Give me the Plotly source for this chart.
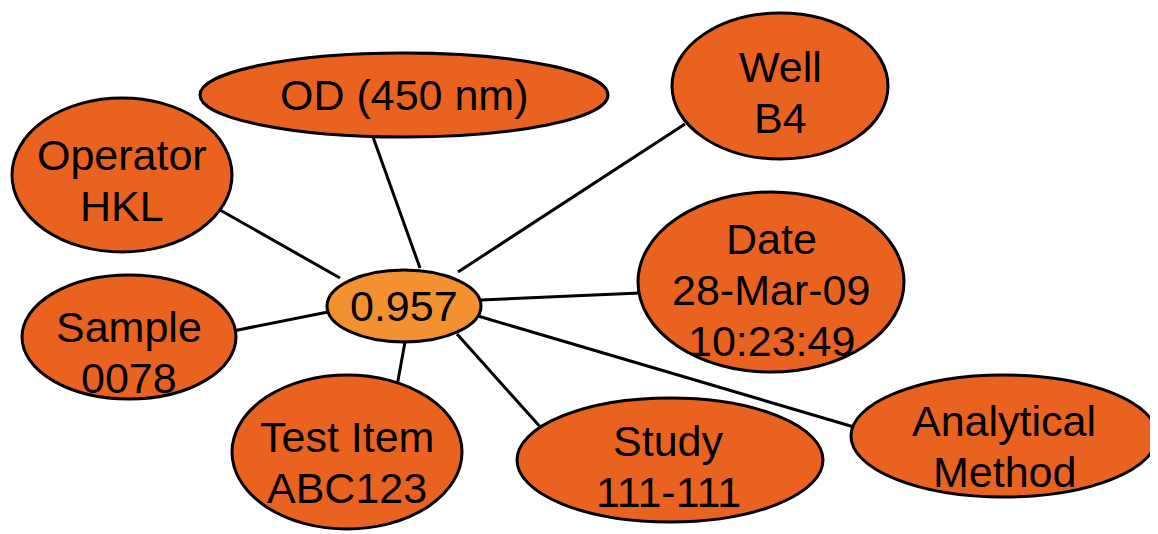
import plotly.graph_objects as go

# Node data (pixel space of a 1158x534 canvas)
labels = ["0.957", "OD (450 nm)", "Well<br>B4", "Operator<br>HKL", "Date<br>28-Mar-09<br>10:23:49",
          "Sample<br>0078", "Test Item<br>ABC123", "Study<br>111-111", "Analytical<br>Method"]
node_x = [404, 404, 780, 122, 771, 129, 347, 670, 1004]
node_y = [306, 95, 86, 175, 282, 337, 452, 460, 436]
node_rx = [77, 204, 108, 110, 133, 107, 115, 153, 153]
node_ry = [36, 42, 73, 77, 90, 62, 77, 62, 61]
text_x = [404, 404, 780, 122, 771, 129, 347, 668, 1004]
text_y = [306, 95, 92, 180, 290, 352, 462, 466, 446]
fills = ["#F39130"] + ["#EA621F"] * 8

# Edge endpoints: (outer node end) -> (central node end)
edge_x0 = [373, 685, 220, 640, 228, 397, 543, 854]
edge_y0 = [137, 124, 210, 293, 332, 386, 430, 427]
edge_x1 = [420, 458, 340, 481, 328, 405, 457, 478]
edge_y1 = [268, 272, 278, 300, 312, 342, 334, 316]

LINE_GAP = 51
PAGE_OFFSET = 8  # default body margin of the html page

fig = go.Figure()

ex, ey = [], []
for a, b, c, d in zip(edge_x0, edge_y0, edge_x1, edge_y1):
    ex += [a, c, None]
    ey += [b, d, None]
fig.add_trace(go.Scatter(x=ex, y=ey, mode="lines", line=dict(color="black", width=3),
                         hoverinfo="skip", showlegend=False))

for x, y, rx, ry, f in zip(node_x, node_y, node_rx, node_ry, fills):
    fig.add_shape(type="circle", xref="x", yref="y", x0=x - rx, x1=x + rx, y0=y - ry, y1=y + ry,
                  fillcolor=f, line=dict(color="black", width=3), layer="above")

for t, x, y in zip(labels, text_x, text_y):
    parts = t.split("<br>")
    n = len(parts)
    for i, p in enumerate(parts):
        fig.add_annotation(x=x, y=y + (i - (n - 1) / 2) * LINE_GAP, text=p, showarrow=False,
                           xref="x", yref="y",
                           font=dict(family="Liberation Sans, Arial, sans-serif", size=43, color="black"))

W, H = 1158, 534
fig.update_layout(
    width=W - PAGE_OFFSET, height=H - PAGE_OFFSET,
    margin=dict(l=0, r=0, t=0, b=0),
    paper_bgcolor="white", plot_bgcolor="white",
    xaxis=dict(range=[PAGE_OFFSET, W], visible=False, fixedrange=True),
    yaxis=dict(range=[H, PAGE_OFFSET], visible=False, fixedrange=True),
)

fig.write_html("out.html")
